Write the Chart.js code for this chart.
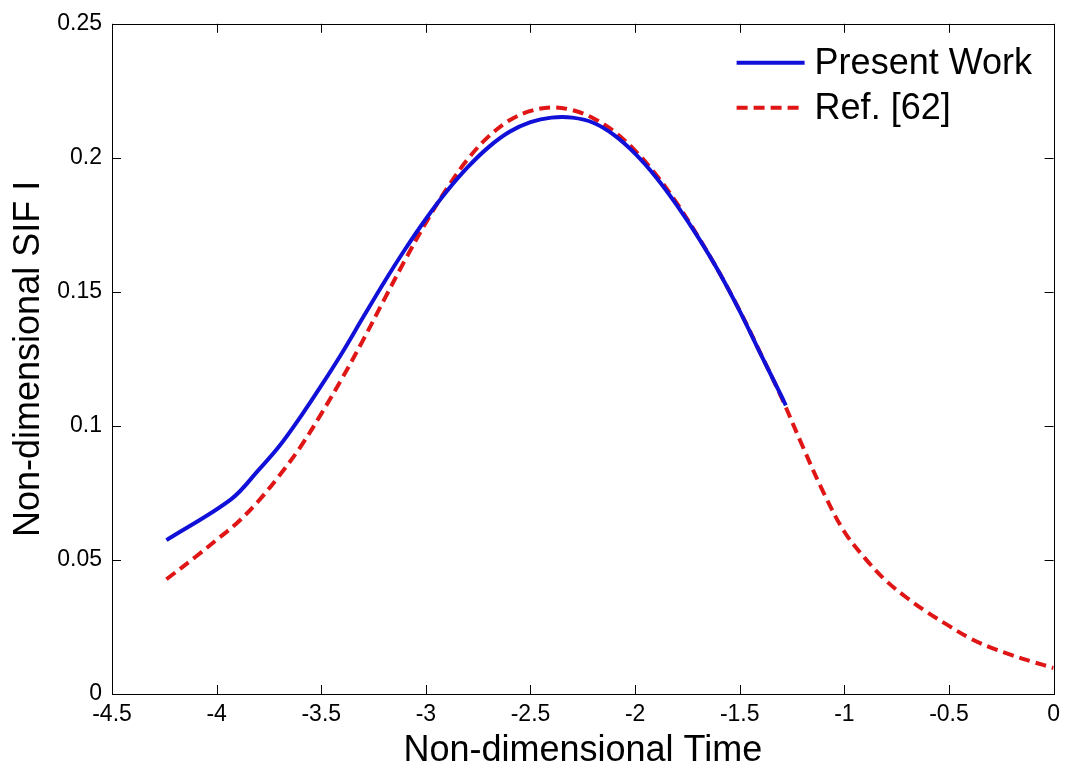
<!DOCTYPE html>
<html>
<head>
<meta charset="utf-8">
<script src="https://cdn.jsdelivr.net/npm/chart.js@4"></script>
<style>
html,body{margin:0;padding:0;background:#fff}
</style>
</head>
<body>
<canvas id="sifChart" width="1067" height="769"></canvas>
<script>
// data
const presentTime = [-4.24, -3.93, -3.8, -3.7, -3.6, -3.5, -3.4, -3.3, -3.2, -3.1, -3.0, -2.9, -2.8, -2.7, -2.6, -2.5, -2.4, -2.3, -2.2, -2.1, -2.0, -1.9, -1.8, -1.7, -1.6, -1.5, -1.4, -1.3, -1.28]
const presentSIF = [0.0574, 0.0727, 0.0835, 0.0925, 0.1033, 0.1150, 0.1273, 0.1405, 0.1535, 0.1658, 0.1772, 0.1875, 0.1965, 0.2040, 0.2097, 0.2133, 0.2150, 0.2150, 0.2131, 0.2085, 0.2016, 0.1928, 0.1823, 0.1705, 0.1575, 0.1428, 0.1268, 0.1110, 0.1077]

const refTime = [-4.24, -4.1, -4.0, -3.9, -3.8, -3.7, -3.6, -3.5, -3.4, -3.3, -3.2, -3.1, -3.0, -2.9, -2.8, -2.7, -2.6, -2.5, -2.4, -2.3, -2.2, -2.1, -2.0, -1.9, -1.8, -1.7, -1.6, -1.5, -1.4, -1.3, -1.2, -1.1, -1.0, -0.9, -0.8, -0.7, -0.6, -0.5, -0.4, -0.3, -0.2, -0.1, 0]
const refSIF = [0.0428, 0.0512, 0.0575, 0.0640, 0.0720, 0.0815, 0.0921, 0.1045, 0.1178, 0.1320, 0.1470, 0.1618, 0.1758, 0.1885, 0.1995, 0.2080, 0.2140, 0.2175, 0.2188, 0.2178, 0.2148, 0.2098, 0.2027, 0.1937, 0.1830, 0.1708, 0.1575, 0.1430, 0.1270, 0.1105, 0.0925, 0.0752, 0.0605, 0.0505, 0.0422, 0.0358, 0.0303, 0.0254, 0.0208, 0.0173, 0.0145, 0.0120, 0.0097]

const xTicks = [-4.5, -4, -3.5, -3, -2.5, -2, -1.5, -1, -0.5, 0]
const xTickLabels = ['-4.5', '-4', '-3.5', '-3', '-2.5', '-2', '-1.5', '-1', '-0.5', '0']
const yTicks = [0, 0.05, 0.1, 0.15, 0.2, 0.25]
const yTickLabels = ['0', '0.05', '0.1', '0.15', '0.2', '0.25']

const FONT = "'Liberation Sans', Arial, Helvetica, sans-serif"

// MATLAB style box with inward ticks on all sides
const framePlugin = {
  id: 'frame',
  afterDatasetsDraw(chart) {
    const {ctx, chartArea: a, scales: {x, y}} = chart
    const t = 9
    ctx.save()
    ctx.strokeStyle = '#000'
    ctx.lineWidth = 1
    ctx.beginPath()
    xTicks.forEach(v => {
      const px = Math.round(x.getPixelForValue(v)) + 0.5
      ctx.moveTo(px, a.bottom); ctx.lineTo(px, a.bottom - t)
      ctx.moveTo(px, a.top); ctx.lineTo(px, a.top + t)
    })
    yTicks.forEach(v => {
      const py = Math.round(y.getPixelForValue(v)) + 0.5
      ctx.moveTo(a.left, py); ctx.lineTo(a.left + t, py)
      ctx.moveTo(a.right, py); ctx.lineTo(a.right - t, py)
    })
    ctx.stroke()
    ctx.strokeRect(Math.round(a.left) + 0.5, Math.round(a.top) + 0.5, Math.round(a.right - a.left), Math.round(a.bottom - a.top))
    ctx.restore()
  }
}

// legend drawn inside the axes, top right
const insideLegend = {
  id: 'insideLegend',
  afterDraw(chart) {
    const {ctx, chartArea: a} = chart
    ctx.save()
    ctx.font = '36px ' + FONT
    ctx.textBaseline = 'middle'
    ctx.fillStyle = '#000'
    chart.data.datasets.forEach((ds, i) => {
      const yy = a.top + 39 + i * 45
      const x0 = a.right - 317
      ctx.strokeStyle = ds.borderColor
      ctx.lineWidth = ds.borderWidth
      ctx.setLineDash(ds.borderDash || [])
      ctx.beginPath()
      ctx.moveTo(x0, yy)
      ctx.lineTo(x0 + 68, yy)
      ctx.stroke()
      ctx.setLineDash([])
      ctx.fillText(ds.label, x0 + 78, yy + 1)
    })
    ctx.restore()
  }
}

const ctx1 = document.getElementById('sifChart')

const sifChart = new Chart(ctx1, {
  type: 'line',
  data: {
    datasets: [{
      label: 'Present Work',
      data: presentTime.map((t, i) => ({x: t, y: presentSIF[i]})),
      borderColor: '#1010d8',
      borderWidth: 4,
      pointRadius: 0,
      tension: 0.35
    }, {
      label: 'Ref. [62]',
      data: refTime.map((t, i) => ({x: t, y: refSIF[i]})),
      borderColor: '#e01515',
      borderWidth: 4,
      borderDash: [11, 6],
      pointRadius: 0,
      tension: 0.35
    }]
  },
  options: {
    responsive: false,
    animation: false,
    layout: {padding: {top: 23, right: 11, left: 0, bottom: 0}},
    plugins: {legend: {display: false}, tooltip: {enabled: false}},
    scales: {
      x: {
        type: 'linear',
        min: -4.5,
        max: 0,
        afterBuildTicks: s => { s.ticks = xTicks.map(v => ({value: v})) },
        afterFit: s => { s.height = 75 },
        grid: {display: false, drawTicks: false},
        border: {display: false},
        ticks: {
          padding: 7,
          color: '#000',
          font: {family: FONT, size: 23},
          maxRotation: 0,
          callback: (v, i) => xTickLabels[i]
        },
        title: {
          display: true,
          text: 'Non-dimensional Time',
          color: '#000',
          font: {family: FONT, size: 36, lineHeight: 1},
          padding: {top: 0, bottom: 0}
        }
      },
      y: {
        min: 0,
        max: 0.25,
        afterBuildTicks: s => { s.ticks = yTicks.map(v => ({value: v})) },
        afterFit: s => { s.width = 112 },
        grid: {display: false, drawTicks: false},
        border: {display: false},
        ticks: {
          padding: 10,
          color: '#000',
          font: {family: FONT, size: 23},
          callback: (v, i) => yTickLabels[i]
        },
        title: {
          display: true,
          text: 'Non-dimensional SIF I',
          color: '#000',
          font: {family: FONT, size: 36, lineHeight: 1},
          padding: {top: 11, bottom: 0}
        }
      }
    }
  },
  plugins: [framePlugin, insideLegend]
})
</script>
</body>
</html>
